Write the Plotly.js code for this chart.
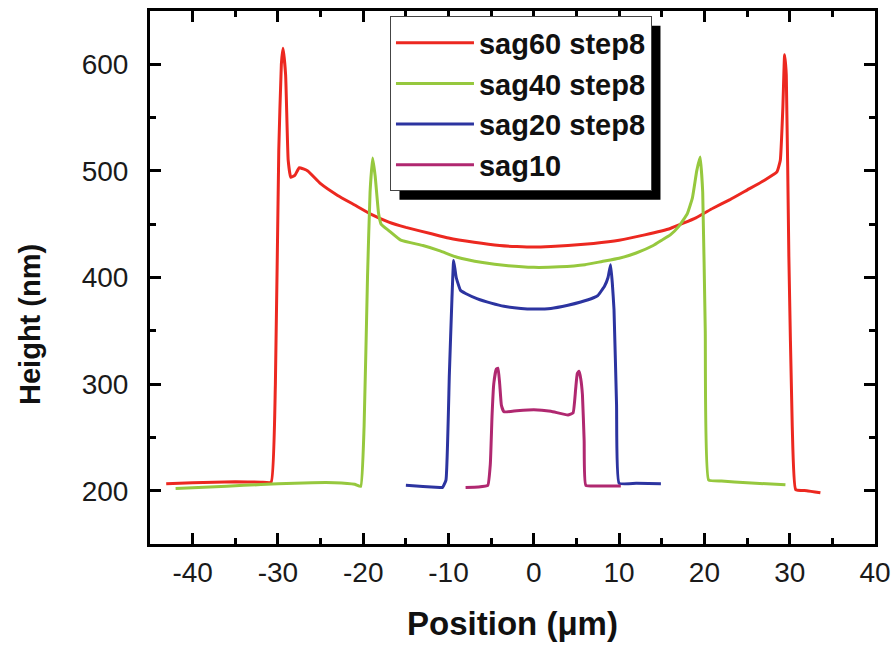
<!DOCTYPE html>
<html>
<head>
<meta charset="utf-8">
<script src="https://cdn.plot.ly/plotly-3.0.1.min.js"></script>
<style>html,body{margin:0;padding:0;background:#fff;}#chart{width:895px;height:645px;}</style>
</head>
<body>
<div id="chart"></div>
<script>
// ---- data ----
const seriesNames = ["sag60 step8", "sag40 step8", "sag20 step8", "sag10"];

const sag60_x = [-43.1, -40, -35, -32, -30.8, -30.3, -29.9, -29.6, -29.4, -29.1, -28.8, -28.5, -28.0, -27.5, -26.5, -25, -23, -21, -19, -17, -15, -12, -10, -7, -4, -2, 0, 2, 4, 7, 10, 13, 16, 19, 21, 23, 25, 27, 28.5, 28.9, 29.2, 29.4, 29.6, 29.9, 30.3, 30.7, 32, 33.6];
const sag60_y = [206.5, 207.5, 208.5, 208, 208, 300, 520, 600, 615, 590, 510, 494, 496, 503, 500, 488, 477, 468, 459, 452, 447, 441, 437, 433, 430, 429, 428.5, 429, 430, 432, 435, 440, 446, 456, 465, 473, 482, 491, 499, 510, 560, 609, 590, 420, 260, 201, 200, 198];

const sag40_x = [-42, -38, -34, -30, -26, -23.4, -21, -20.3, -19.9, -19.5, -19.2, -18.9, -18.6, -18.2, -17.9, -17, -15.6, -13, -11, -9, -6, -3, 0, 3, 6, 8, 10, 12, 14, 15, 16, 17, 18, 18.6, 19.1, 19.5, 19.8, 20.1, 20.5, 22, 25, 29.5];
const sag40_y = [202, 203.5, 205, 206.5, 207.5, 207.5, 206, 204, 260, 400, 480, 512, 495, 460, 450, 444, 435, 430, 425, 419, 414, 411, 409.5, 410, 412, 415, 418, 423, 430, 435, 440, 448, 460, 475, 500, 513, 480, 350, 210, 209, 207.5, 205.5];

const sag20_x = [-15, -13, -11, -10.7, -10.3, -9.9, -9.6, -9.4, -9.1, -8.6, -8, -6.6, -5, -3.5, -1.5, 0, 2, 4, 5.5, 7, 7.5, 8.3, 8.7, 9.0, 9.2, 9.4, 9.7, 10.0, 12, 14.9];
const sag20_y = [205, 204, 203, 203, 210, 310, 380, 416, 400, 388, 385, 380, 376, 373, 371, 370.5, 371, 374, 377, 381, 383, 392, 400, 412, 395, 370, 280, 207, 207, 206.5];

const sag10_x = [-8, -6.5, -5.4, -5.1, -4.9, -4.7, -4.4, -4.2, -4.0, -3.8, -3.5, -2, 0, 2, 4, 4.6, 4.9, 5.1, 5.3, 5.5, 5.7, 5.9, 6.1, 8, 10.2];
const sag10_y = [203, 203.5, 205, 225, 270, 300, 314, 315, 300, 280, 274, 275, 276, 274.5, 271, 273, 295, 310, 312, 305, 290, 247, 205, 204.5, 204.5];

const xTickVals = [-40, -30, -20, -10, 0, 10, 20, 30, 40];
const yTickVals = [200, 300, 400, 500, 600];

// ---- styles ----
const colors = ["rgb(236,40,32)", "rgb(150,200,62)", "rgb(44,52,160)", "rgb(176,40,112)"];
const xs = [sag60_x, sag40_x, sag20_x, sag10_x];
const ys = [sag60_y, sag40_y, sag20_y, sag10_y];

const traces = seriesNames.map((n, i) => ({
  type: "scatter", mode: "lines", name: n,
  x: xs[i], y: ys[i],
  line: {color: colors[i], width: 3, shape: "spline", smoothing: 0.35}
}));

const FONT = "Arial, 'Liberation Sans', sans-serif";
const axisCommon = {
  showgrid: false, zeroline: false,
  showline: true, linecolor: "#000", linewidth: 3, mirror: "ticks",
  ticks: "inside", ticklen: 11, tickwidth: 3, tickcolor: "#000",
  tickfont: {family: FONT, size: 28, color: "#1a1a1a"}
};

const layout = {
  width: 895, height: 645,
  margin: {l: 150, r: 20, t: 11, b: 101},
  paper_bgcolor: "#fff", plot_bgcolor: "#fff",
  showlegend: true,
  xaxis: Object.assign({}, axisCommon, {
    range: [-45, 40], tickmode: "array", tickvals: xTickVals, ticktext: xTickVals.map(String),
    minor: {ticks: "inside", ticklen: 6, tickwidth: 3, tickcolor: "#000", dtick: 5, tick0: 0},
    ticklabelstandoff: 1,
    title: {text: "Position (μm)", standoff: 26,
      font: {family: FONT, size: 33, weight: "bold", color: "#111"}}
  }),
  yaxis: Object.assign({}, axisCommon, {
    range: [150, 650], tickmode: "array", tickvals: yTickVals, ticktext: yTickVals.map(String),
    minor: {ticks: "inside", ticklen: 6, tickwidth: 3, tickcolor: "#000", dtick: 50, tick0: 0},
    ticklabelstandoff: 13
  }),
  legend: {
    x: 0.331, y: 0.99, xanchor: "left", yanchor: "top",
    bgcolor: "#fff", bordercolor: "#444", borderwidth: 1,
    font: {family: FONT, size: 29, weight: "bold", color: "#111"},
    itemwidth: 78, tracegroupgap: 0
  },
  annotations: [{
    xref: "paper", yref: "paper", x: -0.1655, y: 0.411,
    xanchor: "center", yanchor: "middle",
    text: "Height (nm)", showarrow: false, textangle: -90,
    font: {family: FONT, size: 29, weight: "bold", color: "#111"}
  }],
  shapes: []
};

const gd = document.getElementById("chart");
Plotly.newPlot(gd, traces, layout, {displayModeBar: false, staticPlot: true}).then(() => {
  const bg = gd.querySelector(".legend .bg");
  if (!bg) return;
  const r = bg.getBoundingClientRect();
  const c = gd.getBoundingClientRect();
  const s = gd._fullLayout._size;
  const off = 9;
  const px2x = p => (p - c.left - s.l) / s.w;
  const px2y = p => 1 - (p - c.top - s.t) / s.h;
  Plotly.relayout(gd, {shapes: [{
    type: "rect", xref: "paper", yref: "paper", layer: "above",
    x0: px2x(r.left + off), x1: px2x(r.right + off),
    y0: px2y(r.bottom + off), y1: px2y(r.top + off),
    fillcolor: "#000", line: {width: 0}
  }]});
});
</script>
</body>
</html>
